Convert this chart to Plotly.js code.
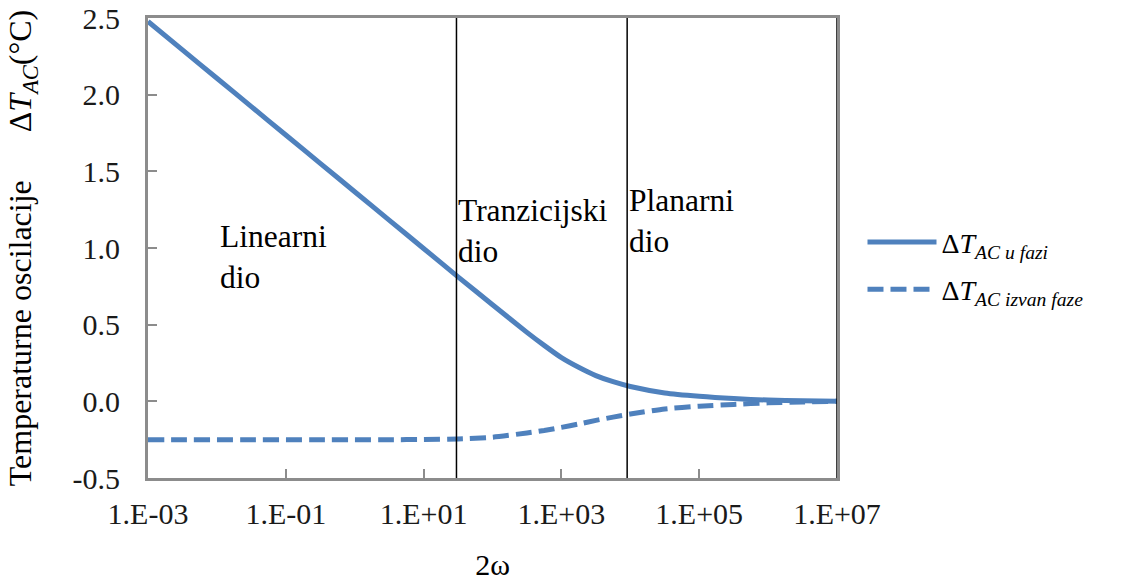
<!DOCTYPE html>
<html>
<head>
<meta charset="utf-8">
<script src="https://cdn.plot.ly/plotly-3.0.1.min.js"></script>
<style>
  html, body { margin: 0; padding: 0; background: #ffffff; }
  #chart { width: 1134px; height: 585px; }
</style>
</head>
<body>
<div id="chart"></div>
<script>
// Frequency (2ω), log axis
const freq = [0.001, 0.00316, 0.01, 0.0316, 0.1, 0.316, 1, 3.16, 10, 31.6, 100, 316, 562, 1000, 1778, 3162, 5623, 10000, 31623, 100000, 316228, 1000000, 3162278, 10000000];
// In-phase oscillation ΔT_AC (°C)
const inPhase = [2.477, 2.292, 2.107, 1.922, 1.737, 1.552, 1.367, 1.182, 0.997, 0.812, 0.63, 0.45, 0.365, 0.285, 0.222, 0.168, 0.128, 0.097, 0.055, 0.033, 0.018, 0.008, 0.003, 0.0];
// Out-of-phase oscillation ΔT_AC (°C)
const outPhase = [-0.25, -0.25, -0.25, -0.25, -0.25, -0.25, -0.25, -0.25, -0.249, -0.245, -0.234, -0.206, -0.19, -0.17, -0.148, -0.124, -0.103, -0.083, -0.05, -0.032, -0.02, -0.01, -0.004, 0.0];
// Region boundaries on the frequency axis
const boundaries = [30, 9000, 10000000];
// Tick values and labels
const xTickVals = [0.001, 0.1, 10, 1000, 100000, 10000000];
const xTickText = ["1.E-03", "1.E-01", "1.E+01", "1.E+03", "1.E+05", "1.E+07"];
const yTickVals = [-0.5, 0, 0.5, 1, 1.5, 2, 2.5];
const yTickText = ["-0.5", "0.0", "0.5", "1.0", "1.5", "2.0", "2.5"];
const seriesNames = ["Δ<i>T</i><sub><i>AC u fazi</i></sub>", "Δ<i>T</i><sub><i>AC izvan faze</i></sub>"];
const regionLabels = ["Linearni<br>dio", "Tranzicijski<br>dio", "Planarni<br>dio"];
const regionLabelX = [0.0105, 30, 9000];

const blue = "#4f81bd";
const serif = "Liberation Serif";

const traces = [
  { x: freq, y: inPhase, type: "scatter", mode: "lines", name: seriesNames[0],
    line: { color: blue, width: 5, shape: "spline", smoothing: 0.6 }, legendgroup: "a" },
  { x: freq, y: outPhase, type: "scatter", mode: "lines", name: seriesNames[1],
    line: { color: blue, width: 5, dash: "16px,7px", shape: "spline", smoothing: 0.6 }, legendgroup: "b" }
];

const shapes = boundaries.map(b => ({
  type: "line", xref: "x", yref: "paper", x0: b, x1: b, y0: 0, y1: 1,
  line: { color: "#000000", width: 1.5 }, layer: "above"
}));

const annYPaper = [0.567, 0.625, 0.645];
const annotations = regionLabels.map((t, i) => ({
  text: t, xref: "x", yref: "paper", x: Math.log10(regionLabelX[i]), y: annYPaper[i],
  xanchor: "left", yanchor: "top", showarrow: false, align: "left",
  xshift: 0, font: { family: serif, size: 31.5, color: "#000000" }
}));

const layout = {
  width: 1134, height: 585,
  margin: { l: 148, r: 297, t: 18, b: 107 },
  paper_bgcolor: "#ffffff", plot_bgcolor: "#ffffff",
  font: { family: serif, size: 30, color: "#1a1a1a" },
  showlegend: true,
  legend: {
    x: 1.037, xanchor: "left", y: 0.567, yanchor: "top",
    font: { family: serif, size: 28, color: "#000000" },
    itemwidth: 69,
    tracegroupgap: 8, traceorder: "grouped", bgcolor: "rgba(0,0,0,0)"
  },
  xaxis: {
    type: "log", range: [-3, 7],
    tickvals: xTickVals, ticktext: xTickText,
    ticks: "inside", ticklen: 9, tickwidth: 2, tickcolor: "#8c8c8c",
    showline: true, linecolor: "#8c8c8c", linewidth: 3, mirror: true,
    showgrid: false, zeroline: false,
    tickfont: { family: serif, size: 30, color: "#1a1a1a" },
    ticklabelstandoff: 7,
    title: { text: "2ω", font: { family: serif, size: 30, color: "#000000" }, standoff: 25 }
  },
  yaxis: {
    range: [-0.5, 2.5], tickvals: yTickVals, ticktext: yTickText,
    ticks: "inside", ticklen: 9, tickwidth: 2, tickcolor: "#8c8c8c",
    showline: true, linecolor: "#8c8c8c", linewidth: 3, mirror: true,
    showgrid: false, zeroline: false,
    tickfont: { family: serif, size: 30, color: "#1a1a1a" },
    ticklabelstandoff: 19,
    title: { text: "Temperaturne oscilacije\u00a0\u00a0\u00a0\u00a0\u00a0\u00a0Δ<i>T</i><sub><i>AC</i></sub>(°C)",
             font: { family: serif, size: 32, color: "#000000" }, standoff: 32 }
  },
  shapes: shapes,
  annotations: annotations
};

Plotly.newPlot("chart", traces, layout, { displayModeBar: false, staticPlot: true });
</script>
</body>
</html>
